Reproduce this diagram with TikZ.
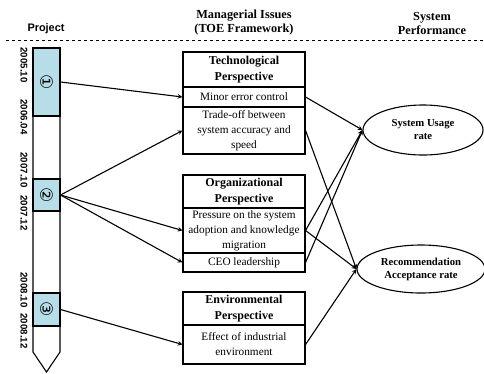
\documentclass[tikz,border=0pt]{standalone}
\usepackage{fontspec}
\setmainfont{Liberation Serif}
\newfontfamily\arialfont{Liberation Sans}
\newfontfamily\circfont{DejaVu Sans}
\usetikzlibrary{shapes.geometric}
\definecolor{phaseblue}{RGB}{183,221,232}

\begin{document}
\begin{tikzpicture}[x=1pt,y=-1pt,->,>=stealth,line width=1.1pt,
  head/.style={font=\fontsize{12.3}{14}\selectfont\bfseries,align=center},
  phase/.style={draw,fill=phaseblue,minimum width=27pt,inner sep=0pt,font=\circfont\fontsize{17}{17}\selectfont},
  date/.style={rotate=-90,anchor=west,inner sep=0pt,font=\arialfont\fontsize{9.7}{10}\selectfont\bfseries},
  title node/.style={draw,minimum width=122pt,inner sep=0pt,align=center,font=\fontsize{12}{15.5}\selectfont\bfseries},
  issue node/.style={draw,minimum width=122pt,inner sep=0pt,align=center,font=\fontsize{11.3}{15}\selectfont},
  goal node/.style={ellipse,draw,inner sep=0pt,align=center,font=\fontsize{10.7}{13}\selectfont\bfseries}]

    \useasboundingbox (0,0) rectangle (484,373);

    % column heads
    \node[head,font=\arialfont\fontsize{10.9}{13}\selectfont\bfseries] (h1) at (46,29) {Project};
    \node[head] (h2) at (244,23) {Managerial Issues\\(TOE Framework)};
    \node[head] (h3) at (432,23) {System\\Performance};
    \draw[-,dashed,line width=0.8pt] (6,40) -- (484,40);

    % project time line
    \draw[-] (33,48) -- (60,48) -- (60,352) -- (46.5,372) -- (33,352) -- cycle;
    \node[phase, minimum height=68pt] (p1) at (46.5,82) {\rotatebox{-90}{①}};
    \node[phase, minimum height=32pt] (p2) at (46.5,195) {\rotatebox{-90}{②}};
    \node[phase, minimum height=33pt] (p3) at (46.5,309.5) {\rotatebox{-90}{③}};

    \node[date] (d1) at (24,47) {2005.10};
    \node[date] (d2) at (24,99) {2006.04};
    \node[date] (d3) at (24,152) {2007.10};
    \node[date] (d4) at (24,195) {2007.12};
    \node[date] (d5) at (24,272) {2008.10};
    \node[date] (d6) at (24,313) {2008.12};

    % TOE boxes
    \node[title node, minimum height=35pt] (tech) at (244,69.5) {Technological\\Perspective};
    \node[issue node, minimum height=20pt] (minor) at (244,97) {Minor error control};
    \node[issue node, minimum height=47pt] (trade) at (244,130.5) {Trade-off between\\system accuracy and\\speed};

    \node[title node, minimum height=33pt] (org) at (244,191.5) {Organizational\\Perspective};
    \node[issue node, minimum height=45pt] (press) at (244,230.5) {Pressure on the system\\adoption and knowledge\\migration};
    \node[issue node, minimum height=19pt] (ceo) at (244,262.5) {CEO leadership};

    \node[title node, minimum height=33pt] (env) at (244,308.5) {Environmental\\Perspective};
    \node[issue node, minimum height=39pt] (effect) at (244,344.5) {Effect of industrial\\environment};

    % performance
    \node[goal node, minimum width=120pt, minimum height=50pt] (usage) at (423,130) {System Usage\\rate};
    \node[goal node, minimum width=128pt, minimum height=48pt] (accept) at (421,269) {Recommendation\\Acceptance rate};

    \draw (p1.east) -- (minor.west);
    \draw (p2.east) -- (trade.west);
    \draw (p2.east) -- (press.west);
    \draw (p2.east) -- (ceo.west);
    \draw (p3.east) -- (effect.west);

    \draw (minor.east) -- (usage.west);
    \draw (press.east) -- (usage.west);
    \draw (ceo.east) -- (usage.west);
    \draw (trade.east) -- (accept.west);
    \draw (press.east) -- (accept.west);
    \draw (effect.east) -- (accept.west);

\end{tikzpicture}
\end{document}
